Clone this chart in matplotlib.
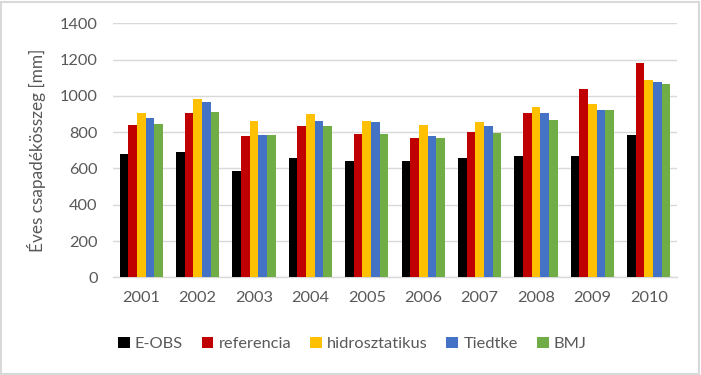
import matplotlib
matplotlib.use("Agg")
import matplotlib.pyplot as plt
import numpy as np
from matplotlib.patches import Rectangle

years = ["2001", "2002", "2003", "2004", "2005", "2006", "2007", "2008", "2009", "2010"]
series_names = ["E-OBS", "referencia", "hidrosztatikus", "Tiedtke", "BMJ"]
e_obs = [680, 691, 586, 658, 641, 641, 658, 669, 669, 784]
referencia = [839, 906, 779, 834, 790, 768, 801, 906, 1038, 1181]
hidrosztatikus = [906, 983, 862, 900, 862, 839, 856, 939, 955, 1087]
tiedtke = [878, 966, 784, 862, 856, 779, 834, 906, 922, 1076]
bmj = [845, 911, 784, 834, 790, 768, 795, 867, 922, 1065]
colors = ["#000000", "#C00000", "#FFC000", "#4472C4", "#70AD47"]
yticks = [0, 200, 400, 600, 800, 1000, 1200, 1400]

plt.rcParams['font.family'] = ['Lato', 'DejaVu Sans']
txt = "#595959"
fs = 11.8

W, H = 701, 375
fig = plt.figure(figsize=(W / 100, H / 100), dpi=100)
ax = fig.add_axes([113 / W, 1 - 277.3 / H, (677 - 113) / W, (277.3 - 23.3) / H])

x = np.arange(len(years))
bw = 0.1525
all_series = [e_obs, referencia, hidrosztatikus, tiedtke, bmj]
for i, (vals, name, c) in enumerate(zip(all_series, series_names, colors)):
    ax.bar(x + (i - 2) * bw, vals, width=bw, color=c, label=name, zorder=3)

ax.set_xlim(-0.5, len(years) - 0.5)
ax.set_ylim(0, 1400)
ax.set_yticks(yticks)
ax.set_yticklabels([str(v) for v in yticks])
ax.set_xticks(x)
ax.set_xticklabels(years)
ax.grid(axis='y', color='#D9D9D9', linewidth=1.0, zorder=0)
for s in ['top', 'right', 'left']:
    ax.spines[s].set_visible(False)
ax.spines['bottom'].set_color('#D9D9D9')
ax.spines['bottom'].set_linewidth(1.0)
ax.tick_params(axis='both', length=0, colors=txt, labelsize=fs)
ax.tick_params(axis='y', pad=11)
ax.tick_params(axis='x', pad=10)
ax.set_ylabel("Éves csapadékösszeg [mm]", color=txt, fontsize=fs + 0.6)
ax.yaxis.set_label_coords(-(113 - 46) / 564, 0.5)

handles, labels = ax.get_legend_handles_labels()
leg = fig.legend(handles, labels, loc='center', bbox_to_anchor=(352 / W, 1 - 344 / H),
                 ncol=5, frameon=False, fontsize=fs, handlelength=0.73, handleheight=0.72,
                 handletextpad=0.3, columnspacing=1.15, borderaxespad=0, borderpad=0)
for t in leg.get_texts():
    t.set_color(txt)

fig.patches.append(Rectangle((1 / W, 1 / H), (W - 3) / W, (H - 3) / H, transform=fig.transFigure,
                             fill=False, edgecolor='#D9D9D9', linewidth=1.5))

fig.savefig("out.png", dpi=100)
